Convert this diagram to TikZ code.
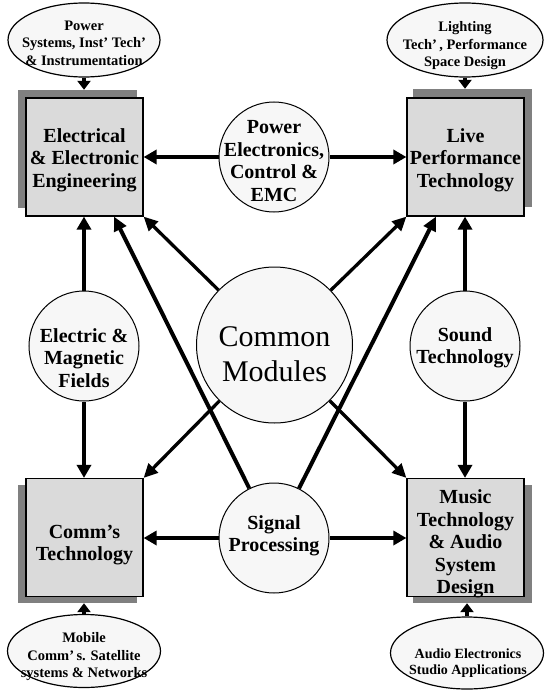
\documentclass[tikz,border=0pt]{standalone}
\usepackage{fontspec}
\setmainfont{Liberation Serif}
\usetikzlibrary{arrows.meta,shapes.geometric,calc}
\definecolor{boxfill}{HTML}{DADADA}
\definecolor{shfill}{HTML}{808080}
\definecolor{cfill}{HTML}{F7F7F7}
\begin{document}
\begin{tikzpicture}[x=1pt,y=-1pt,
  modbox/.style={draw, line width=1.2pt, fill=boxfill, minimum width=117pt, minimum height=118pt, inner sep=0pt},
  shbox/.style={fill=shfill, minimum width=119pt, minimum height=118pt, inner sep=0pt},
  topic/.style={circle, draw, line width=1pt, fill=cfill, minimum size=110pt, inner sep=0pt},
  area/.style={ellipse, draw, line width=1.2pt, fill=cfill, inner sep=0pt},
  boxtxt/.style={font=\fontsize{20}{22.5}\selectfont\bfseries, align=center, inner sep=0pt},
  areatxt/.style={font=\fontsize{14.5}{17.5}\selectfont\bfseries, align=center, inner sep=0pt},
  cmtxt/.style={font=\fontsize{30}{35}\selectfont, align=center, inner sep=0pt},
  arr/.style={line width=4.5pt, -{Triangle[length=13pt,width=14pt]}},
  sarr/.style={line width=4.5pt, -{Triangle[length=9pt,width=13pt]}},
  darr/.style={line width=3.3pt, -{Triangle[length=14pt,width=13pt]}},
  larr/.style={line width=4pt, -{Triangle[length=14pt,width=13pt]}}
]
\useasboundingbox (0,0) rectangle (546,690);
% shadows
\node[shbox] (tlsh) at (77.5,149) {};
\node[shbox] (trsh) at (472.5,148) {};
\node[shbox] (blsh) at (77.5,544) {};
\node[shbox] (brsh) at (472.5,544) {};
% boxes
\node[modbox] (tl) at (84.5,157) {};
\node[modbox] (tr) at (465.5,157) {};
\node[modbox] (bl) at (84.5,537.5) {};
\node[modbox] (br) at (465.5,537.5) {};
% circles
\node[topic] (pe) at (274,157) {};
\node[topic] (el) at (84,346) {};
\node[topic] (st) at (465,346) {};
\node[topic] (sp) at (274,538) {};
\node[topic, minimum size=156pt] (cm) at (274.5,345) {};
% ellipses
\node[area, minimum width=152pt, minimum height=74pt] (tle) at (84,40) {};
\node[area, minimum width=156pt, minimum height=74pt] (tre) at (465,40) {};
\node[area, minimum width=153pt, minimum height=73pt] (ble) at (84,651) {};
\node[area, minimum width=153pt, minimum height=72pt] (bre) at (467,653) {};
% arrows
\draw[sarr] (tle.south) -- (tle.south |- tlsh.north);
\draw[sarr] (tre.south) -- (tre.south |- trsh.north);
\draw[sarr] (ble.north) -- (ble.north |- blsh.south);
\draw[sarr] (bre.north) -- (bre.north |- brsh.south);
\draw[arr] (pe.west) -- (pe.west -| tl.east);
\draw[arr] (pe.east) -- (pe.east -| tr.west);
\draw[arr] (sp.west) -- (sp.west -| bl.east);
\draw[arr] (sp.east) -- (sp.east -| br.west);
\draw[arr] (el.north) -- (el.north |- tl.south);
\draw[arr] (el.south) -- (el.south |- bl.north);
\draw[arr] (st.north) -- (st.north |- tr.south);
\draw[arr] (st.south) -- (st.south |- br.north);
\draw[darr] (cm) -- (tl.south east);
\draw[darr] (cm) -- (tr.south west);
\draw[darr] (cm) -- (bl.north east);
\draw[darr] (cm) -- (br.north west);
\draw[larr] (sp) -- ($(tl.south)!0.5!(tl.south east)$);
\draw[larr] (sp) -- ($(tr.south)!0.5!(tr.south west)$);
% texts
\node[boxtxt] (tlt) at (84.5,160) {Electrical\\\& Electronic\\Engineering};
\node[boxtxt] (trt) at (465.5,160) {Live\\Performance\\Technology};
\node[boxtxt] (blt) at (84.5,545) {Comm’s\\Technology};
\node[boxtxt] (brt) at (465.5,544) {Music\\Technology\\\& Audio\\System\\Design};
\node[boxtxt] (pet) at (274,161) {Power\\Electronics,\\Control \&\\EMC};
\node[boxtxt] (elt) at (84,358) {Electric \&\\Magnetic\\Fields};
\node[boxtxt] (stt) at (465,348) {Sound\\Technology};
\node[boxtxt] (spt) at (274,536) {Signal\\Processing};
\node[cmtxt] (cmt) at (274.5,354) {Common\\Modules};
\node[areatxt] (tlet) at (84,43) {Power\\Systems, Inst’ Tech’\\\& Instrumentation};
\node[areatxt] (tret) at (465,46) {Lighting\\Tech’\,, Performance\\Space Design};
\node[areatxt] (blet) at (84,657) {Mobile\\Comm’\,s. Satellite\\systems \& Networks};
\node[areatxt, font=\fontsize{14}{15.5}\selectfont\bfseries] (bret) at (468,663) {Audio Electronics\\Studio Applications};
\end{tikzpicture}
\end{document}
